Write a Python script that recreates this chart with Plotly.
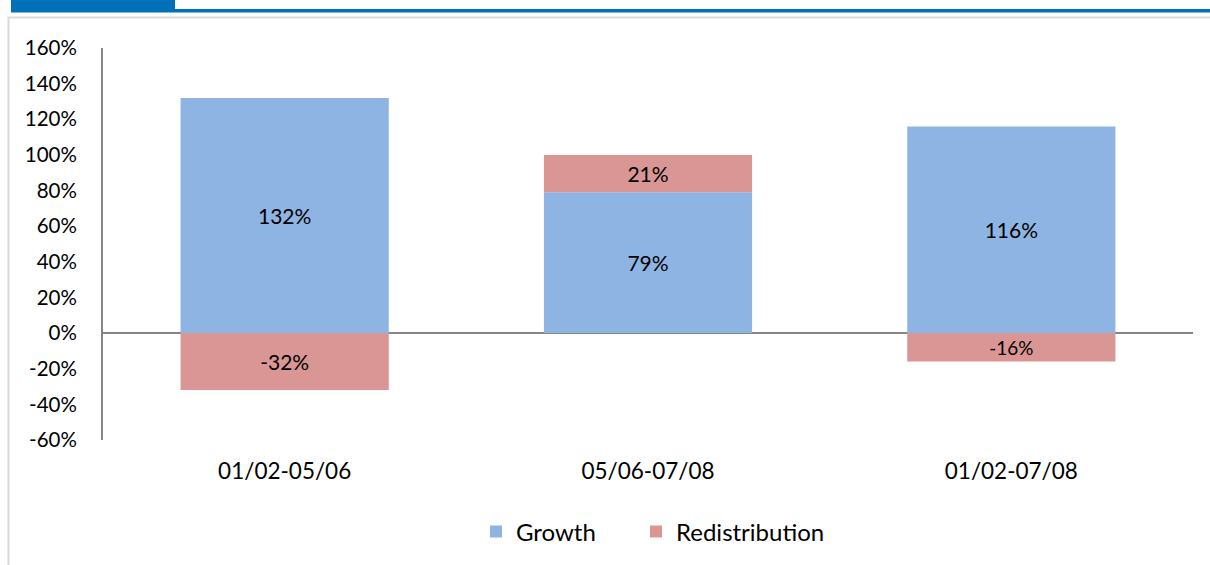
import plotly.graph_objects as go

categories = ["01/02-05/06", "05/06-07/08", "01/02-07/08"]
growth = [132, 79, 116]
redistribution = [-32, 21, -16]
y_ticks = [-60, -40, -20, 0, 20, 40, 60, 80, 100, 120, 140, 160]

FONT = "Lato"
W, H = 1210, 565
L, R, T, B = 103, 17, 48, 124
pw, ph = W - L - R, H - T - B

def px(x):
    return (x - L) / pw

def py(y):
    return (H - B - y) / ph

fig = go.Figure()
fig.add_trace(go.Bar(
    x=categories, y=growth, name="Growth", legend="legend",
    marker=dict(color="#8EB4E3", line=dict(width=0)),
    text=[f"{v}%" for v in growth], textposition="inside",
    insidetextanchor="middle",
    textfont=dict(family=FONT, size=21, color="#000000"),
))
fig.add_trace(go.Bar(
    x=categories, y=redistribution, name="Redistribution", legend="legend2",
    marker=dict(color="#D99694", line=dict(width=0)),
    text=[f"{v}%" for v in redistribution], textposition="inside",
    insidetextanchor="middle",
    textfont=dict(family=FONT, size=21, color="#000000"),
))

shapes = [
    # outer light gray frame
    dict(type="rect", xref="paper", yref="paper",
         x0=px(8.5), x1=px(1215), y0=py(17.5), y1=py(580),
         line=dict(color="#D9D9D9", width=2), fillcolor="rgba(0,0,0,0)", layer="below"),
    # header blue box
    dict(type="rect", xref="paper", yref="paper",
         x0=px(11), x1=px(175), y0=py(0), y1=py(12.5),
         line=dict(width=0), fillcolor="#0070B8", layer="above"),
    # header blue line
    dict(type="rect", xref="paper", yref="paper",
         x0=px(175), x1=px(1215), y0=py(9), y1=py(12.5),
         line=dict(width=0), fillcolor="#0070B8", layer="above"),
]

legend_common = dict(orientation="h", xanchor="left", yanchor="middle",
                     y=py(532), itemwidth=30,
                     font=dict(family=FONT, size=24, color="#000000"),
                     bgcolor="rgba(0,0,0,0)")

fig.update_layout(
    width=W, height=H,
    margin=dict(l=L, r=R, t=T, b=B),
    barmode="relative",
    bargap=0.427,
    plot_bgcolor="white", paper_bgcolor="white",
    font=dict(family=FONT, color="#000000"),
    shapes=shapes,
    showlegend=True,
    legend=dict(x=px(476), **legend_common),
    legend2=dict(x=px(636), **legend_common),
    xaxis=dict(showline=False, showgrid=False, zeroline=False, ticks="",
               tickfont=dict(family=FONT, size=22.5, color="#000000"),
               ticklabelstandoff=15, fixedrange=True),
    yaxis=dict(range=[-60, 160], tickvals=y_ticks,
               ticktext=[f"{v}%" for v in y_ticks],
               showline=True, linecolor="#868686", linewidth=2,
               showgrid=False, zeroline=True, zerolinecolor="#868686",
               zerolinewidth=2, ticks="",
               tickfont=dict(family=FONT, size=20.5, color="#000000"),
               ticklabelstandoff=20, fixedrange=True),
)

fig.write_html("out.html")
